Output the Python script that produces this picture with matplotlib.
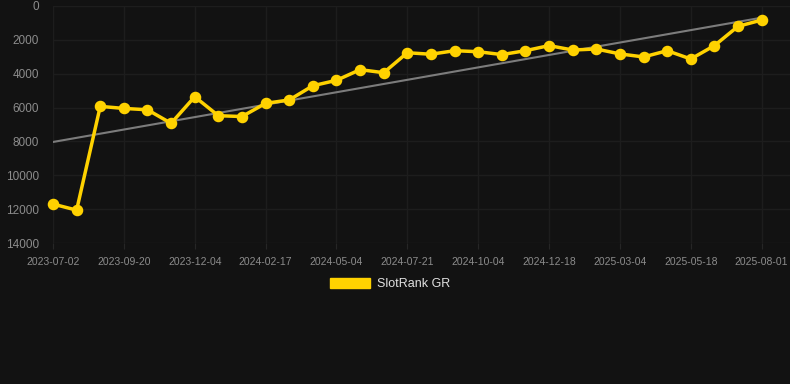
import numpy as np
import matplotlib
matplotlib.use("Agg")
import matplotlib.pyplot as plt
from matplotlib.patches import Patch

plt.rcParams['font.family'] = ['Liberation Sans', 'DejaVu Sans']

# Data
tick_labels = ["2023-07-02", "2023-09-20", "2023-12-04", "2024-02-17", "2024-05-04",
               "2024-07-21", "2024-10-04", "2024-12-18", "2025-03-04", "2025-05-18",
               "2025-08-01"]
rank_values = [11700, 12060, 5930, 6050, 6130, 6930, 5360, 6480, 6530, 5750,
               5550, 4710, 4390, 3760, 3940, 2760, 2850, 2640, 2700, 2870,
               2640, 2340, 2600, 2540, 2830, 3010, 2640, 3130, 2340, 1200, 830]
series_name = "SlotRank GR"

BG = "#121212"
YELLOW = "#FFD200"
GRID = "#1d1d1d"
TXT = "#8c8c8c"

x = np.arange(len(rank_values))
y = np.array(rank_values, dtype=float)
coef = np.polyfit(x, y, 1)
trend = np.polyval(coef, x)

fig = plt.figure(figsize=(7.9, 3.84), dpi=100, facecolor=BG)
ax = fig.add_axes([53/790, 1-243/384, 1-53/790, (243-6)/384])
ax.set_facecolor(BG)

ax.plot(x, trend, color="#7c7c7c", lw=1.5, zorder=2)
ax.plot(x, y, color=YELLOW, lw=2.5, marker="o", markersize=7.3, zorder=3, clip_on=False)

ax.set_ylim(14000, 0)
ax.set_yticks(np.arange(0, 14001, 2000))
ax.set_xlim(0, 31.2)
ax.set_xticks(x[::3])
ax.set_xticklabels(tick_labels)

ax.grid(True, color=GRID, lw=1)
ax.set_axisbelow(True)
for s in ax.spines.values():
    s.set_visible(False)
ax.tick_params(axis="y", length=0, pad=10, labelsize=8.5, labelcolor=TXT)
ax.tick_params(axis="x", length=4, color="#262626", pad=6, labelsize=7.5, labelcolor=TXT)

leg = fig.legend(handles=[Patch(facecolor=YELLOW, edgecolor=YELLOW)], labels=[series_name],
                 loc="center", bbox_to_anchor=(390/790, 1-284/384), frameon=False,
                 fontsize=9, handlelength=3.2, handleheight=0.9, handletextpad=0.6)
for t in leg.get_texts():
    t.set_color("#e0e0e0")

fig.savefig("out.png", dpi=100, facecolor=BG)
